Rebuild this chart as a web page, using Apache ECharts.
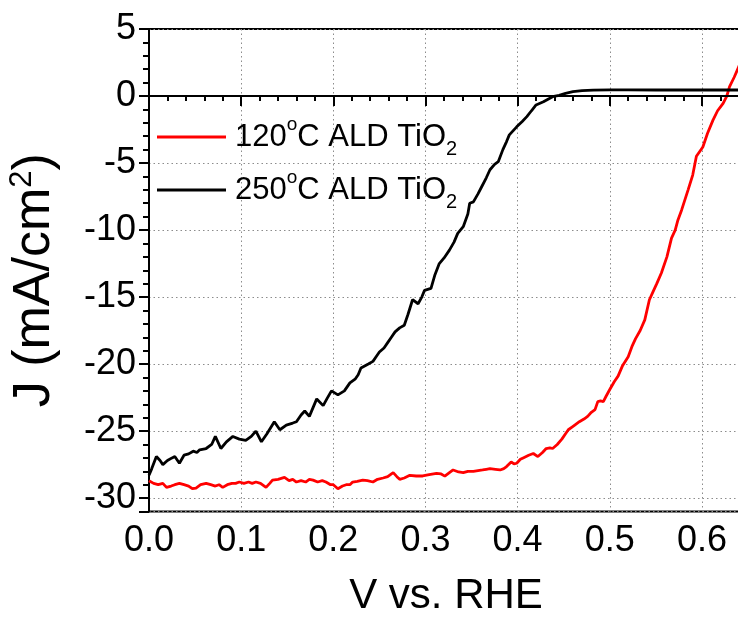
<!DOCTYPE html>
<html>
<head>
<meta charset="utf-8">
<script src="https://cdn.jsdelivr.net/npm/echarts@6/dist/echarts.min.js"></script>
<style>html,body{margin:0;padding:0;background:#fff;}#c{width:738px;height:619px;}</style>
</head>
<body>
<div id="c"></div>
<script>
// ---- data ----
const seriesNames = ['120°C ALD TiO2', '250°C ALD TiO2'];
const xTickValues = [0.0, 0.1, 0.2, 0.3, 0.4, 0.5, 0.6];
const yTickValues = [5, 0, -5, -10, -15, -20, -25, -30];

const red_V = [0.000,0.005,0.010,0.015,0.019,0.024,0.028,0.033,0.038,0.043,0.047,0.051,0.056,0.062,0.067,0.072,0.076,0.080,0.085,0.090,0.094,0.098,0.103,0.108,0.112,0.116,0.121,0.127,0.131,0.134,0.140,0.147,0.152,0.156,0.160,0.165,0.170,0.174,0.178,0.183,0.188,0.192,0.197,0.200,0.205,0.210,0.214,0.218,0.221,0.226,0.232,0.237,0.243,0.248,0.254,0.259,0.265,0.269,0.272,0.277,0.283,0.290,0.297,0.304,0.312,0.317,0.321,0.326,0.330,0.336,0.341,0.346,0.352,0.357,0.362,0.366,0.370,0.376,0.381,0.385,0.388,0.393,0.396,0.399,0.403,0.406,0.412,0.417,0.422,0.427,0.431,0.435,0.438,0.443,0.448,0.452,0.455,0.459,0.462,0.467,0.472,0.476,0.480,0.484,0.487,0.490,0.493,0.496,0.500,0.505,0.509,0.514,0.520,0.524,0.528,0.533,0.538,0.543,0.547,0.551,0.556,0.562,0.567,0.571,0.574,0.578,0.585,0.590,0.594,0.598,0.601,0.606,0.612,0.617,0.623,0.627,0.630,0.635,0.640,0.645];
const red_J = [-28.7,-28.9,-29.0,-28.9,-29.2,-29.1,-29.0,-28.9,-29.0,-29.1,-29.3,-29.25,-29.0,-28.9,-29.0,-29.1,-29.0,-29.2,-29.0,-28.9,-28.9,-28.8,-28.9,-28.8,-28.9,-28.8,-28.9,-29.2,-28.9,-28.66,-28.6,-28.46,-28.7,-28.6,-28.8,-28.7,-28.8,-28.6,-28.66,-28.8,-28.7,-28.8,-29.0,-29.0,-29.3,-29.1,-29.0,-29.0,-28.8,-28.75,-28.66,-28.7,-28.8,-28.6,-28.5,-28.4,-28.1,-28.4,-28.6,-28.5,-28.3,-28.35,-28.35,-28.25,-28.16,-28.2,-28.36,-28.1,-27.9,-28.05,-28.1,-28.0,-28.0,-27.95,-27.9,-27.85,-27.8,-27.85,-27.9,-27.8,-27.65,-27.3,-27.45,-27.4,-27.1,-27.0,-26.8,-26.67,-26.9,-26.6,-26.3,-26.25,-26.3,-26.0,-25.6,-25.2,-24.9,-24.7,-24.55,-24.3,-24.1,-23.9,-23.6,-23.4,-22.8,-22.75,-22.8,-22.4,-21.9,-21.3,-20.9,-20.1,-19.45,-18.7,-18.1,-17.5,-16.7,-15.2,-14.6,-14.0,-13.2,-12.0,-10.6,-10.0,-9.25,-8.5,-7.0,-5.9,-4.5,-4.1,-3.8,-2.8,-1.8,-1.1,-0.55,0.0,0.7,1.4,2.2,3.0];

const black_V = [0.000,0.003,0.008,0.012,0.015,0.020,0.025,0.028,0.033,0.038,0.043,0.048,0.052,0.055,0.062,0.068,0.072,0.078,0.084,0.091,0.098,0.105,0.111,0.116,0.122,0.128,0.136,0.142,0.149,0.156,0.160,0.165,0.169,0.174,0.182,0.189,0.193,0.198,0.205,0.212,0.218,0.224,0.227,0.230,0.238,0.243,0.247,0.250,0.255,0.259,0.263,0.267,0.272,0.277,0.281,0.286,0.292,0.296,0.299,0.306,0.310,0.315,0.320,0.326,0.331,0.335,0.341,0.346,0.348,0.352,0.357,0.361,0.366,0.370,0.375,0.379,0.384,0.388,0.391,0.395,0.399,0.405,0.410,0.415,0.420,0.428,0.434,0.438,0.445,0.452,0.460,0.470,0.482,0.500,0.520,0.550,0.580,0.610,0.640,0.650];
const black_J = [-28.3,-27.8,-26.9,-27.2,-27.5,-27.2,-27.0,-26.9,-27.4,-26.8,-26.7,-26.5,-26.6,-26.4,-26.3,-26.0,-25.4,-26.3,-25.8,-25.4,-25.6,-25.7,-25.4,-25.0,-25.8,-25.2,-24.3,-24.9,-24.55,-24.4,-24.3,-23.8,-23.5,-23.9,-22.6,-23.1,-22.6,-22.0,-22.3,-22.0,-21.4,-21.1,-20.8,-20.3,-20.0,-19.8,-19.4,-19.1,-18.8,-18.4,-18.0,-17.6,-17.3,-17.1,-16.3,-15.2,-15.5,-15.0,-14.5,-14.35,-13.4,-12.5,-12.1,-11.5,-10.9,-10.25,-9.75,-8.8,-8.0,-7.9,-7.3,-6.77,-6.1,-5.5,-5.1,-4.9,-4.0,-3.4,-2.9,-2.6,-2.3,-1.9,-1.54,-1.1,-0.67,-0.43,-0.2,-0.05,0.05,0.2,0.32,0.40,0.44,0.46,0.46,0.45,0.45,0.45,0.45,0.45];

// ---- chart ----
const zip = (a, b) => a.map((v, i) => [v, b[i]]);
const FONT = "'Liberation Sans', Arial, sans-serif";
const chart = echarts.init(document.getElementById('c'), null, {renderer: 'canvas'});

const dotted = {color: '#8c8c8c', width: 1, type: [1.5, 3]};

function legendFmt(name) {
  const m = name.match(/^(\d+)°(.*)(\d)$/);
  return '{p|}{n|' + m[1] + '}{sup|o}{n|' + m[2] + '}{sub|' + m[3] + '}';
}

chart.setOption({
  animation: false,
  backgroundColor: '#fff',
  textStyle: {fontFamily: FONT, color: '#000'},
  grid: {left: 149, top: 29, width: 599, height: 482.5, show: true, borderColor: '#000', borderWidth: 2, backgroundColor: 'transparent', outerBoundsMode: 'none', containLabel: false},
  legend: {
    show: true, orient: 'vertical', left: 152, top: 110, itemGap: 9,
    icon: 'rect', itemWidth: 69, itemHeight: 3, padding: 5,
    data: seriesNames,
    formatter: legendFmt,
    textStyle: {
      fontFamily: FONT, color: '#000',
      rich: {
        p: {width: 4},
        n: {fontSize: 31, lineHeight: 44, fontFamily: FONT, color: '#000', verticalAlign: 'middle'},
        sup: {fontSize: 19, lineHeight: 30, fontFamily: FONT, color: '#000', verticalAlign: 'top'},
        sub: {fontSize: 20, lineHeight: 14, fontFamily: FONT, color: '#000', verticalAlign: 'bottom'}
      }
    }
  },
  xAxis: [
    { // minor ticks
      type: 'value', min: 0, max: 0.65, interval: 0.02, position: 'bottom',
      axisLine: {show: true, lineStyle: {color: '#000', width: 2}},
      axisTick: {show: true, length: 5, lineStyle: {color: '#000', width: 2}},
      axisLabel: {show: false}, splitLine: {show: false}
    },
    { // major ticks + labels
      type: 'value', min: 0, max: 0.65, interval: 0.1, position: 'bottom',
      axisLine: {show: false},
      axisTick: {show: true, length: 10, lineStyle: {color: '#000', width: 2}},
      axisLabel: {show: true, fontSize: 36, fontFamily: FONT, color: '#000', margin: 12,
        formatter: v => xTickValues.some(t => Math.abs(t - v) < 1e-6) ? v.toFixed(1) : ''},
      splitLine: {show: true, lineStyle: dotted},
      name: 'V vs. RHE', nameLocation: 'middle', nameGap: 64,
      nameTextStyle: {fontSize: 42, fontFamily: FONT, color: '#000', padding: [0, 5, 0, 0]}
    }
  ],
  yAxis: [
    { // minor ticks
      type: 'value', min: -31, max: 5, interval: 1, position: 'left',
      axisLine: {show: true, lineStyle: {color: '#000', width: 2}},
      axisTick: {show: true, length: 6, lineStyle: {color: '#000', width: 2}},
      axisLabel: {show: false}, splitLine: {show: false}
    },
    { // major ticks + labels
      type: 'value', min: -31, max: 5, splitNumber: 7, position: 'left',
      axisLine: {show: false},
      axisTick: {show: true, length: 10, lineStyle: {color: '#000', width: 2}},
      axisLabel: {show: true, fontSize: 36, fontFamily: FONT, color: '#000', margin: 13,
        formatter: v => yTickValues.indexOf(v) >= 0 ? String(v) : ''},
      splitLine: {show: true, lineStyle: dotted},
      name: '{a|J (mA/cm}{s|2}{e|)}', nameLocation: 'middle', nameGap: 86,
      nameTextStyle: {
        fontFamily: FONT, color: '#000',
        rich: {
          a: {fontSize: 52, lineHeight: 56, fontFamily: FONT, color: '#000', verticalAlign: 'middle'},
          e: {fontSize: 52, lineHeight: 56, fontFamily: FONT, color: '#000', verticalAlign: 'middle', padding: [0, 20, 0, 0]},
          s: {fontSize: 31, lineHeight: 38, fontFamily: FONT, color: '#000', verticalAlign: 'top'}
        }
      }
    }
  ],
  series: [
    {
      name: seriesNames[0], type: 'line', xAxisIndex: 1, yAxisIndex: 1,
      data: zip(red_V, red_J), showSymbol: false, symbol: 'none', clip: true,
      lineStyle: {color: '#ff0000', width: 2.8}, itemStyle: {color: '#ff0000'}, z: 3
    },
    {
      name: seriesNames[1], type: 'line', xAxisIndex: 1, yAxisIndex: 1,
      data: zip(black_V, black_J), showSymbol: false, symbol: 'none', clip: true,
      lineStyle: {color: '#000', width: 2.8}, itemStyle: {color: '#000'}, z: 4,
      markLine: {
        silent: true, symbol: 'none', label: {show: false},
        lineStyle: {color: '#000', width: 2, type: 'solid'},
        data: [{yAxis: 0}]
      }
    }
  ]
});
</script>
</body>
</html>
